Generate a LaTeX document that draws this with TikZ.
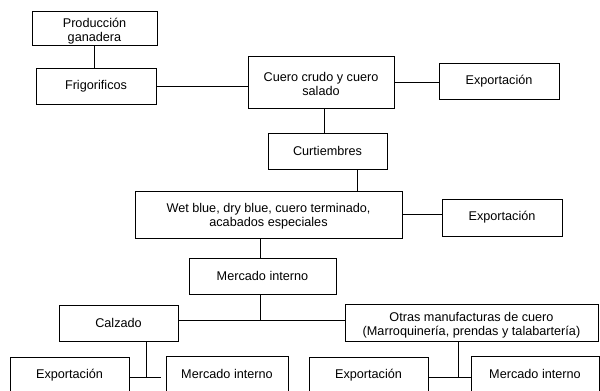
\documentclass[tikz,border=0pt]{standalone}
\usepackage{fontspec}
\setmainfont{Liberation Sans}
% two-line label set a little below the box centre, keeping its reported size
\newcommand\lowtext[2]{\raisebox{-#1}[\height][\depth]{\begin{tabular}{@{}c@{}}#2\end{tabular}}}
\begin{document}
\begin{tikzpicture}[x=0.75pt,y=-0.75pt,
  box/.style={draw, line width=0.6pt, inner sep=0pt, align=center,
    font=\fontsize{9.5}{10.5}\selectfont},
  link/.style={line width=0.6pt}]
\useasboundingbox (0,0) rectangle (600,390);
\clip (0,0) rectangle (600,390);

% boxes of the chain
\node[box, minimum width=93.75pt, minimum height=25.5pt] (prod) at (94.5,28) {\lowtext{3pt}{Producción\\ganadera}};
\node[box, minimum width=90pt, minimum height=27pt] (frig) at (96,86) {Frigorificos};
\node[box, minimum width=109.5pt, minimum height=39pt] (cuero) at (321,82) {\lowtext{3pt}{Cuero crudo y cuero\\salado}};
\node[box, minimum width=90pt, minimum height=27pt] (exp1) at (499,81) {Exportación};
\node[box, minimum width=89.25pt, minimum height=27pt] (curt) at (327.5,151) {Curtiembres};
\node[box, minimum width=200.25pt, minimum height=35.25pt] (wet) at (268.5,214.5) {\lowtext{1.5pt}{Wet blue, dry blue, cuero terminado,\\acabados especiales}};
\node[box, minimum width=90pt, minimum height=27.75pt] (exp2) at (502,217.5) {Exportación};
\node[box, minimum width=110.25pt, minimum height=27pt] (merc) at (262.5,276) {Mercado interno};
\node[box, minimum width=89.25pt, minimum height=27pt] (calz) at (118.5,323) {Calzado};
\node[box, minimum width=189.75pt, minimum height=27.75pt] (otras) at (471.5,322.5) {\lowtext{2.25pt}{Otras manufacturas de cuero\\(Marroquinería, prendas y talabartería)}};
\node[box, minimum width=89.25pt, minimum height=27pt] (exp3) at (69.5,375) {Exportación};
\node[box, minimum width=91.5pt, minimum height=27pt] (merc2) at (227,374) {Mercado interno};
\node[box, minimum width=89.25pt, minimum height=27pt] (exp4) at (368.5,375) {Exportación};
\node[box, minimum width=96pt, minimum height=27pt] (merc3) at (535,374) {Mercado interno};

% junction points of the branching lines
\coordinate (j1) at (260,320);
\coordinate (j2) at (146,377);
\coordinate (j3) at (458,377);

% connectors
\draw[link] (prod.south) -- (prod.south |- frig.north);
\draw[link] (frig.east) -- (frig.east -| cuero.west);
\draw[link] (cuero.east) -- (cuero.east -| exp1.west);
\draw[link] ([xshift=-2.6pt]curt.north) -- ([xshift=-2.6pt]curt.north |- cuero.south);
\draw[link] ([xshift=22.1pt]curt.south) -- ([xshift=22.1pt]curt.south |- wet.north);
\draw[link] (wet.east) -- (wet.east -| exp2.west);
\draw[link] ([xshift=-1.9pt]merc.north) -- ([xshift=-1.9pt]merc.north |- wet.south);
\draw[link] (merc.south -| j1) -- (j1);
\draw[link] (calz.east |- j1) -- (otras.west |- j1);
\draw[link] (calz.south -| j2) -- (j2);
\draw[link, shorten >=3.75pt] (exp3.east |- j2) -- (merc2.west |- j2);
\draw[link] (otras.south -| j3) -- (j3);
\draw[link] (exp4.east |- j3) -- (merc3.west |- j3);
\end{tikzpicture}
\end{document}
